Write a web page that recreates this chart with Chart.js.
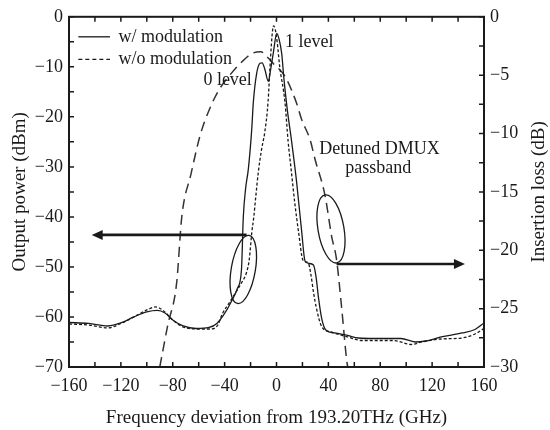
<!DOCTYPE html>
<html>
<head>
<meta charset="utf-8">
<script src="https://cdn.jsdelivr.net/npm/chart.js@4/dist/chart.umd.min.js"></script>
<style>
  body { margin: 0; background: #fff; }
</style>
</head>
<body>
<canvas id="chart" width="550" height="430"></canvas>
<script>
// w/ modulation (solid), output power in dBm
const solidFreq = [-160, -145, -130, -120, -110, -100, -92, -86, -80, -72, -62, -52, -46, -40, -35, -30, -27, -25.6, -23.8, -21.7, -19.1, -17.9, -15.3, -12.7, -11, -9, -6.3, -4.5, -2.5, 0.2, 2, 4, 5.8, 8.3, 11.7, 15.5, 19.4, 22, 25, 28.5, 30.5, 32.5, 35, 38, 45, 55, 63, 76, 96, 107, 115, 127, 143, 153, 160];
const solidPower = [-61.1, -61.3, -61.8, -61.2, -60.0, -59.0, -58.7, -59.2, -60.6, -61.8, -62.3, -62.1, -61.3, -59.3, -57.0, -54.2, -50.5, -40, -34.3, -30.4, -22.5, -17.2, -11.3, -9.3, -9.2, -10.5, -12.9, -10.5, -7.3, -3.3, -4.5, -7.3, -12.6, -18.5, -25, -33, -42.9, -48.8, -49.3, -49.6, -52, -56.4, -60.5, -62.6, -63.2, -63.7, -64.2, -64.3, -64.3, -65, -64.8, -64, -63.2, -62.5, -61.2];

// w/o modulation (dotted), output power in dBm
const dottedFreq = [-160, -145, -130, -120, -110, -100, -93, -87, -80, -72, -62, -50, -45, -42, -36, -30, -27, -23, -21, -19, -17.5, -16, -14, -11.5, -9, -6.5, -5, -3.5, -2.3, -1, 0.5, 2.5, 6.5, 9, 11.5, 14, 17, 20.5, 24.5, 26.5, 28.5, 31, 35, 42, 55, 66, 90, 104, 112, 127, 143, 153, 160];
const dottedPower = [-61.4, -61.6, -62.2, -61.3, -60, -58.6, -58.0, -58.8, -60.6, -62, -62.4, -62.4, -61.5, -59.5, -57, -54.5, -53.2, -51, -48.5, -43, -40, -36, -31, -26.5, -23, -17, -10, -4, -1.8, -2.5, -5, -10, -17, -25, -31, -37, -43, -48.7, -49.2, -51.5, -55, -58.5, -62, -63, -64, -64.7, -64.7, -65.5, -65, -64.4, -64.2, -63.4, -62.3];

// Detuned DMUX passband (dashed), insertion loss in dB
const passFreq = [-90, -84, -77, -73, -66, -59, -52, -44, -36, -28, -18, -12, -7.6, -2.5, 6.5, 15.5, 19.4, 25.8, 29.7, 37.4, 42.5, 46.3, 50.3, 54.2, 55];
const passLoss = [-30, -26.5, -22.8, -17.1, -13.5, -10.2, -8, -6.2, -5, -4.0, -3.1, -3.0, -3.4, -4.0, -5.1, -7.4, -8.8, -10.5, -12.2, -15.3, -18.8, -20.8, -25, -29.5, -30];

const legendLabels = ['w/ modulation', 'w/o modulation'];

const FONT = '"Liberation Serif", "DejaVu Serif", serif';
const INK = '#1a1a1a';

function toPoints(xs, ys) {
    return xs.map((v, i) => ({ x: v, y: ys[i] }));
}

function fmt(v) {
    return v < 0 ? '\u2212' + Math.abs(v) : String(v);
}

// annotations, in data units of x / left y axis
const ovals = [
    { f: -25.6, p: -50.5, rf: 9.3, rp: 6.9, tilt: 0.17 },
    { f: 42, p: -42.4, rf: 10, rp: 6.9, tilt: -0.17 }
];
const arrows = [
    { from: -23, to: -142.5, p: -43.6 },
    { from: 46.3, to: 145.3, p: -49.4 }
];

const overlay = {
    id: 'overlay',
    afterDraw(chart) {
        const ctx = chart.ctx;
        const a = chart.chartArea;
        const sx = chart.scales.x, sy = chart.scales.y, sy2 = chart.scales.y2;
        const X = v => sx.getPixelForValue(v);
        const Y = v => sy.getPixelForValue(v);
        ctx.save();
        ctx.strokeStyle = INK;
        ctx.fillStyle = INK;

        // inward ticks
        ctx.lineWidth = 1.5;
        ctx.beginPath();
        sx.ticks.forEach(t => {
            const px = X(t.value);
            ctx.moveTo(px, a.bottom); ctx.lineTo(px, a.bottom - 5);
            ctx.moveTo(px, a.top); ctx.lineTo(px, a.top + 5);
        });
        sy.ticks.forEach(t => {
            const py = Y(t.value);
            ctx.moveTo(a.left, py); ctx.lineTo(a.left + 5, py);
        });
        sy2.ticks.forEach(t => {
            const py = sy2.getPixelForValue(t.value);
            ctx.moveTo(a.right, py); ctx.lineTo(a.right - 5, py);
        });
        ctx.stroke();

        // frame
        ctx.lineWidth = 2;
        ctx.strokeRect(a.left, a.top, a.right - a.left, a.bottom - a.top);

        // ellipses
        ctx.lineWidth = 1.3;
        ovals.forEach(o => {
            const cx = X(o.f), cy = Y(o.p);
            const rx = Math.abs(X(o.f + o.rf) - cx);
            const ry = Math.abs(Y(o.p + o.rp) - cy);
            ctx.beginPath();
            ctx.ellipse(cx, cy, rx, ry, o.tilt, 0, Math.PI * 2);
            ctx.stroke();
        });

        // arrows
        arrows.forEach(ar => {
            const x0 = X(ar.from), x1 = X(ar.to), py = Y(ar.p);
            const dir = Math.sign(x1 - x0);
            ctx.lineWidth = 2.6;
            ctx.beginPath();
            ctx.moveTo(x0, py); ctx.lineTo(x1 - dir * 8, py);
            ctx.stroke();
            ctx.beginPath();
            ctx.moveTo(x1, py);
            ctx.lineTo(x1 - dir * 11, py - 5);
            ctx.lineTo(x1 - dir * 11, py + 5);
            ctx.closePath();
            ctx.fill();
        });

        // text notes
        ctx.font = '18px ' + FONT;
        ctx.textBaseline = 'middle';
        ctx.textAlign = 'right';
        ctx.fillText('0 level', X(-19), Y(-12.7));
        ctx.textAlign = 'left';
        ctx.fillText('1 level', X(6.5), Y(-5));
        ctx.textAlign = 'center';
        ctx.fillText('Detuned DMUX', X(79.5), Y(-26.4));
        ctx.fillText('passband', X(78.5), Y(-30.2));

        // legend
        ctx.textAlign = 'left';
        const ly = [Y(-4.0), Y(-8.5)];
        ctx.lineWidth = 1.3;
        [[], [4, 3]].forEach((dash, i) => {
            ctx.setLineDash(dash);
            ctx.beginPath();
            ctx.moveTo(X(-152.8), ly[i]); ctx.lineTo(X(-128.4), ly[i]);
            ctx.stroke();
            ctx.setLineDash([]);
            ctx.fillText(legendLabels[i], X(-121.8), ly[i]);
        });

        // right axis title, reading upward
        ctx.font = '19px ' + FONT;
        ctx.translate(539, (a.top + a.bottom) / 2);
        ctx.rotate(-Math.PI / 2);
        ctx.textAlign = 'center';
        ctx.fillText('Insertion loss (dB)', 0, 0);
        ctx.restore();
    }
};

const tickFont = { family: FONT, size: 18 };
const titleFont = { family: FONT, size: 19 };

new Chart(document.getElementById('chart'), {
    type: 'line',
    data: {
        datasets: [{
            label: legendLabels[0],
            data: toPoints(solidFreq, solidPower),
            borderColor: INK,
            borderWidth: 1.3,
            pointRadius: 0,
            cubicInterpolationMode: 'monotone',
            yAxisID: 'y'
        }, {
            label: legendLabels[1],
            data: toPoints(dottedFreq, dottedPower),
            borderColor: INK,
            borderWidth: 1.3,
            borderDash: [3, 2],
            pointRadius: 0,
            cubicInterpolationMode: 'monotone',
            yAxisID: 'y'
        }, {
            label: 'Detuned DMUX passband',
            data: toPoints(passFreq, passLoss),
            borderColor: '#333',
            borderWidth: 1.5,
            borderDash: [10, 6],
            pointRadius: 0,
            cubicInterpolationMode: 'monotone',
            yAxisID: 'y2'
        }]
    },
    options: {
        responsive: false,
        animation: false,
        layout: { padding: { top: 13, left: 0, right: 0, bottom: 0 } },
        plugins: { legend: { display: false }, tooltip: { enabled: false } },
        scales: {
            x: {
                type: 'linear',
                min: -160, max: 160,
                afterFit: s => { s.height = 63; },
                grid: { display: false, drawTicks: false },
                border: { display: false },
                ticks: {
                    stepSize: 20, autoSkip: false, maxRotation: 0,
                    padding: 8, color: INK, font: tickFont,
                    callback: v => (v % 40 === 0 ? fmt(v) : '')
                },
                title: {
                    display: true,
                    text: 'Frequency deviation from 193.20THz (GHz)',
                    color: INK, font: titleFont,
                    padding: { top: 0, bottom: 1 }
                }
            },
            y: {
                position: 'left',
                min: -70, max: 0,
                afterFit: s => { s.width = 69; },
                grid: { display: false, drawTicks: false },
                border: { display: false },
                ticks: {
                    stepSize: 5, autoSkip: false, padding: 6, color: INK, font: tickFont,
                    callback: v => (v % 10 === 0 ? fmt(v) : '')
                },
                title: {
                    display: true,
                    text: 'Output power (dBm)',
                    color: INK, font: titleFont,
                    padding: { top: 9, bottom: 0 }
                }
            },
            y2: {
                position: 'right',
                min: -30, max: 0,
                afterFit: s => { s.width = 66; },
                grid: { display: false, drawTicks: false },
                border: { display: false },
                ticks: {
                    stepSize: 2.5, autoSkip: false, padding: 6, color: INK, font: tickFont,
                    callback: v => (v % 5 === 0 ? fmt(v) : '')
                }
            }
        }
    },
    plugins: [overlay]
});
</script>
</body>
</html>
